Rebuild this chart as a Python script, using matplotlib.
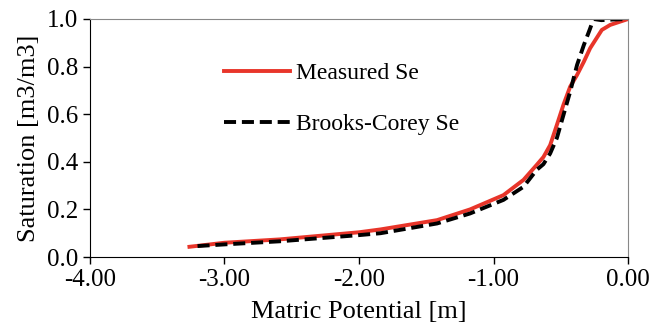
import matplotlib
matplotlib.use('Agg')
from matplotlib import pyplot as plt

plt.rcParams['font.family'] = 'Liberation Serif'

# Measured effective saturation
meas_h = [-3.26, -3.0, -2.59, -2.0, -1.84, -1.42, -1.175, -0.927, -0.778, -0.68, -0.63,
          -0.58, -0.53, -0.481, -0.431, -0.38, -0.33, -0.283, -0.196, -0.134, 0.0]
meas_se = [0.043, 0.06, 0.074, 0.104, 0.116, 0.155, 0.20, 0.26, 0.324, 0.387, 0.42,
           0.47, 0.555, 0.64, 0.716, 0.765, 0.82, 0.877, 0.954, 0.975, 1.0]

# Brooks-Corey fit
bc_h = [-3.20, -3.0, -2.59, -2.0, -1.84, -1.42, -1.175, -0.927, -0.778, -0.68, -0.63,
        -0.58, -0.53, -0.481, -0.431, -0.38, -0.33, -0.283, -0.258, -0.2, -0.1, 0.0]
bc_se = [0.046, 0.053, 0.066, 0.092, 0.10, 0.141, 0.183, 0.24, 0.295, 0.366, 0.39,
         0.435, 0.50, 0.597, 0.695, 0.807, 0.89, 0.96, 1.0, 0.995, 0.998, 1.0]

xticks = [-4, -3, -2, -1, 0]
xtick_labels = ['-4.00', '-3.00', '-2.00', '-1.00', '0.00']
yticks = [0, 0.2, 0.4, 0.6, 0.8, 1.0]
ytick_labels = ['0.0', '0.2', '0.4', '0.6', '0.8', '1.0']

fig = plt.figure(figsize=(6.51, 3.27), dpi=100)
ax = fig.add_axes([0.138, 0.214, 0.827, 0.728])

ax.plot(meas_h, meas_se, color='#e8352a', lw=2.8, label='Measured Se')
ax.plot(bc_h, bc_se, color='black', lw=2.8, linestyle=(0, (3.1, 1.5)), label='Brooks-Corey Se')

ax.set_xlim(-4, 0)
ax.set_ylim(0, 1)
ax.set_xticks(xticks)
ax.set_xticklabels(xtick_labels)
ax.set_yticks(yticks)
ax.set_yticklabels(ytick_labels)
ax.set_xlabel('Matric Potential [m]', fontsize=19, labelpad=7)
ax.set_ylabel('Saturation [m3/m3]', fontsize=19, labelpad=5)

ax.spines['top'].set_color('#888888')
ax.spines['right'].set_color('#888888')
ax.tick_params(direction='out', length=5, width=1, labelsize=18)

ax.legend(loc='upper left', bbox_to_anchor=(0.249, 0.818), frameon=False,
          borderpad=0, borderaxespad=0, handlelength=2.8, handletextpad=0.25,
          labelspacing=1.25, fontsize=17)

plt.savefig('out.png', dpi=100)
